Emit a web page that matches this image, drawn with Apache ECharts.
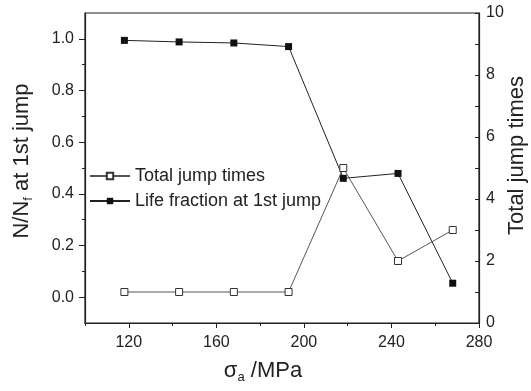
<!DOCTYPE html>
<html>
<head>
<meta charset="utf-8">
<script src="https://cdn.jsdelivr.net/npm/echarts@6/dist/echarts.min.js"></script>
<style>html,body{margin:0;padding:0;background:#fff}#c{width:531px;height:391px}</style>
</head>
<body>
<div id="c"></div>
<script>
var stress = [118, 143, 168, 193, 218, 243, 268];
var lifeFraction = [0.994, 0.988, 0.984, 0.970, 0.460, 0.479, 0.054];
var totalJumps = [1, 1, 1, 1, 5, 2, 3];
var xMajorTicks = [120, 160, 200, 240, 280];
var xMinorTicks = [100, 140, 180, 220, 260];
var yLeftMajor = [0, 0.2, 0.4, 0.6, 0.8, 1.0];
var yLeftMinor = [0.1, 0.3, 0.5, 0.7, 0.9];

function pairs(xs, ys) { return xs.map(function (x, i) { return [x, ys[i]]; }); }

var FONT = '"Liberation Sans", Arial, sans-serif';
var chart = echarts.init(document.getElementById('c'), null, { renderer: 'canvas' });
chart.setOption({
  animation: false,
  textStyle: { fontFamily: FONT },
  grid: { left: 85, right: 52, top: 13, bottom: 68, containLabel: false, outerBoundsMode: 'none', show: true, borderColor: '#222', borderWidth: 1.2, backgroundColor: 'transparent' },
  legend: {
    orient: 'vertical', left: 84, top: 162, itemWidth: 40, itemHeight: 8, itemGap: 7,
    textStyle: { fontSize: 18, color: '#222', fontFamily: FONT },
    data: ['Total jump times', 'Life fraction at 1st jump']
  },
  xAxis: [{
    type: 'value', min: 100, max: 280,
    name: '{s|σ}{sub|a}{s| /MPa}', nameLocation: 'middle', nameGap: 34,
    nameTextStyle: { padding: [0, 38, 0, 0], rich: { s: { fontSize: 22, color: '#222', fontFamily: FONT }, sub: { fontSize: 13, color: '#222', fontFamily: FONT, padding: [14, 0, 0, 0] } } },
    axisLine: { onZero: false, lineStyle: { color: '#222', width: 1.2 } },
    axisTick: { show: true, length: 5, customValues: xMajorTicks, lineStyle: { color: '#222' } },
    axisLabel: { customValues: xMajorTicks, fontSize: 16, color: '#222', margin: 12 },
    splitLine: { show: false }
  }, {
    type: 'value', min: 100, max: 280, position: 'bottom', gridIndex: 0,
    axisLine: { show: false, onZero: false },
    axisTick: { show: true, length: 3, customValues: xMinorTicks, lineStyle: { color: '#222' } },
    axisLabel: { show: false }, splitLine: { show: false }
  }],
  yAxis: [{
    type: 'value', min: -0.1, max: 1.1, position: 'left',
    name: '{s|N/N}{sub|f}{s| at 1st jump}', nameLocation: 'middle', nameGap: 50, nameRotate: 90,
    nameTextStyle: { padding: [0, 0, 0, 14], rich: { s: { fontSize: 22, color: '#222', fontFamily: FONT }, sub: { fontSize: 13, color: '#222', fontFamily: FONT, padding: [14, 0, 0, 0] } } },
    axisLine: { show: true, onZero: false, lineStyle: { color: '#222', width: 1.2 } },
    axisTick: { show: true, length: 6, customValues: yLeftMajor, lineStyle: { color: '#222' } },
    axisLabel: { customValues: yLeftMajor, fontSize: 16, color: '#222', margin: 11, formatter: function (v) { return v.toFixed(1); } },
    splitLine: { show: false }
  }, {
    type: 'value', min: -0.1, max: 1.1, position: 'left',
    axisLine: { show: false, onZero: false },
    axisTick: { show: true, length: 3, customValues: yLeftMinor, lineStyle: { color: '#222' } },
    axisLabel: { show: false }, splitLine: { show: false }
  }, {
    type: 'value', min: 0, max: 10, interval: 1, position: 'right',
    name: 'Total jump times', nameLocation: 'middle', nameGap: 27, nameRotate: 90, nameMoveOverlap: false,
    nameTextStyle: { fontSize: 22, color: '#222', padding: [0, 0, 0, 25] },
    axisLine: { show: true, onZero: false, lineStyle: { color: '#222', width: 1.2 } },
    axisTick: { show: true, inside: true, length: 4, lineStyle: { color: '#222' } },
    axisLabel: { fontSize: 16, color: '#222', margin: 7, formatter: function (v) { return v % 2 === 0 ? String(v) : ''; } },
    splitLine: { show: false }
  }],
  series: [{
    name: 'Total jump times', type: 'line', xAxisIndex: 0, yAxisIndex: 2,
    data: pairs(stress, totalJumps),
    symbol: 'rect', symbolSize: 7, showAllSymbol: true,
    lineStyle: { color: '#555', width: 1 },
    itemStyle: { color: '#fff', borderColor: '#333', borderWidth: 1 },
    z: 3
  }, {
    name: 'Life fraction at 1st jump', type: 'line', xAxisIndex: 0, yAxisIndex: 0,
    data: pairs(stress, lifeFraction),
    symbol: 'rect', symbolSize: 7, showAllSymbol: true,
    lineStyle: { color: '#222', width: 1 },
    itemStyle: { color: '#111', borderColor: '#111', borderWidth: 0 },
    z: 2
  }]
});
</script>
</body>
</html>
